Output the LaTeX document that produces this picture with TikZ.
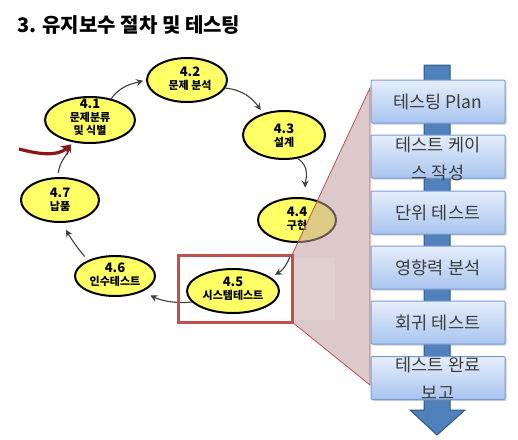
\documentclass[tikz,border=0pt]{standalone}
\usepackage{fontspec}
\setmainfont{Noto Sans CJK KR}
\usetikzlibrary{arrows.meta,shapes.geometric,shadows}
\definecolor{ellfill}{RGB}{255,255,102}
\definecolor{arrgray}{RGB}{64,64,64}
\definecolor{boxred}{RGB}{192,80,77}
\definecolor{darkred}{RGB}{140,22,22}
\definecolor{pinkfill}{RGB}{192,160,160}
\definecolor{shaftblue}{RGB}{79,129,189}
\definecolor{shaftedge}{RGB}{52,88,132}
\definecolor{boxtop}{RGB}{230,238,251}
\definecolor{boxbot}{RGB}{168,196,238}
\definecolor{boxedge}{RGB}{120,157,214}
\definecolor{boxtext}{RGB}{60,60,60}
\begin{document}
\begin{tikzpicture}[x=1pt,y=1pt,
  ell/.style={ellipse, draw=black, line width=2pt, fill=ellfill, inner sep=0pt},
  etext/.style={align=center, font=\bfseries\fontsize{11}{13}\selectfont, inner sep=0pt},
  conn/.style={draw=arrgray, line width=1.1pt, -{Stealth[length=7pt,width=7pt,inset=2.5pt]}},
  bbox/.style={draw=boxedge, line width=1pt, top color=boxtop, bottom color=boxbot,
    minimum width=134pt, minimum height=43pt, inner sep=0pt, rounded corners=1pt,
    drop shadow={shadow xshift=1.5pt, shadow yshift=-1.5pt, opacity=0.35}},
  btext/.style={text=boxtext, align=center, font=\fontsize{17.5}{28}\selectfont, inner sep=0pt}
]
\useasboundingbox (0,0) rectangle (518,-439);
\fill[white] (0,0) rectangle (518,-439);

% title
\node[anchor=west, inner sep=0pt, font=\bfseries\fontsize{20}{24}\selectfont] (title) at (17,-25) {3. 유지보수 절차 및 테스팅};

% ellipses
\node[ell, minimum width=90pt, minimum height=46pt] (e41) at (90,-120) {};
\node[ell, minimum width=80pt, minimum height=44pt] (e42) at (187,-80) {};
\node[ell, minimum width=82pt, minimum height=48pt] (e43) at (284,-135) {};
\node[ell, minimum width=78pt, minimum height=44pt] (e44) at (297,-220) {};
\node[ell, minimum width=92pt, minimum height=44pt] (e45) at (233,-291) {};
\node[ell, minimum width=80pt, minimum height=40pt] (e46) at (115,-276) {};
\node[ell, minimum width=78pt, minimum height=44pt] (e47) at (60,-200) {};

\node[etext] (t41) at (90,-117) {{\fontsize{13}{13}\selectfont 4.1}\\문제분류\\및 식별};
\node[etext] (t42) at (190,-78.5) {{\fontsize{13}{13}\selectfont 4.2}\\문제 분석};
\node[etext] (t43) at (284,-136) {{\fontsize{13}{13}\selectfont 4.3}\\설계};
\node[etext] (t44) at (297,-218.5) {{\fontsize{13}{13}\selectfont 4.4}\\구현};
\node[etext] (t45) at (233,-289) {{\fontsize{13}{13}\selectfont 4.5}\\시스템테스트};
\node[etext] (t46) at (115,-275) {{\fontsize{13}{13}\selectfont 4.6}\\인수테스트};
\node[etext] (t47) at (60,-200) {{\fontsize{13}{13}\selectfont 4.7}\\납품};

% connectors
\draw[conn, shorten >=3pt] (e41.45) to[out=55,in=195] (e42.west);
\draw[conn, shorten >=4pt] (e42.-12) to[out=-5,in=125] (e43.134);
\draw[conn, shorten >=10pt] (e43.-60) to[out=-30,in=90] (e44.70);
\draw[conn, shorten <=13pt, shorten >=5pt] (e44.265) to[out=-110,in=30] (e45.20);
\draw[conn, shorten >=9pt] (e45.195) to[out=185,in=-25] (e46.-30);
\draw[conn, shorten <=5pt, shorten >=8pt] (e46.150) to[out=130,in=-60] (e47.-85);
\draw[conn, shorten <=4pt, shorten >=4pt] (e47.95) to[out=85,in=-115] (e41.-128);

\coordinate (redstart) at (19,-149);
\draw[draw=darkred, line width=3.2pt, -{Stealth[length=10pt,width=11pt,inset=3pt]}, shorten >=3pt]
  (redstart) to[out=-15,in=-140] (e41.-126);

% zoom trapezoid
\filldraw[draw=boxred, line width=0.8pt, fill=pinkfill, fill opacity=0.55]
  (292,-255) -- (370,-88) -- (370,-385) -- (292,-322) -- cycle;
\fill[white, opacity=0.1] (293,-258) rectangle (335,-320);

% red box
\node[draw=boxred, line width=3pt, minimum width=114pt, minimum height=67pt, inner sep=0pt] (redbox) at (235,-288.5) {};

% blue arrow
\filldraw[fill=shaftblue, draw=shaftedge, line width=1pt]
  (424,-65) -- (450,-65) -- (450,-410) -- (465,-410) -- (437,-435) -- (410,-410) -- (424,-410) -- cycle;

% boxes
\node[bbox] (b1) at (438,-101.5) {};
\node[bbox] (b2) at (438,-156.5) {};
\node[bbox] (b3) at (438,-212.5) {};
\node[bbox] (b4) at (438,-267.5) {};
\node[bbox] (b5) at (438,-322.5) {};
\node[bbox] (b6) at (438,-378) {};

\node[btext] (tb1) at (b1) {테스팅 Plan};
\node[btext] (tb2) at ([yshift=-2.5pt]b2.center) {테스트 케이\\스 작성};
\node[btext] (tb3) at (b3) {단위 테스트};
\node[btext] (tb4) at (b4) {영향력 분석};
\node[btext] (tb5) at (b5) {회귀 테스트};
\node[btext] (tb6) at (b6) {테스트 완료\\보고};
\end{tikzpicture}
\end{document}
